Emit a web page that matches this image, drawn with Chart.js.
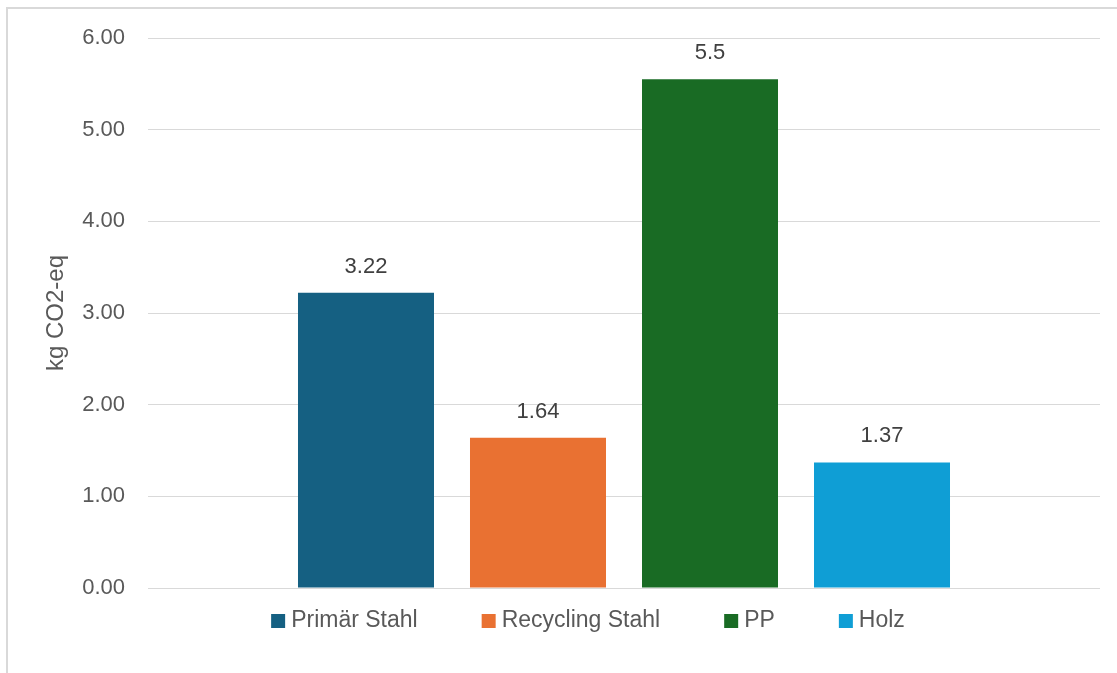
<!DOCTYPE html>
<html>
<head>
<meta charset="utf-8">
<script src="https://cdn.jsdelivr.net/npm/chart.js@4.4.1/dist/chart.umd.min.js"></script>
<style>
  body { margin: 0; background: #fff; }
  #wrap { position: relative; width: 1117px; height: 673px; overflow: hidden; }
  #frame { position: absolute; left: 6px; top: 7px; width: 1200px; height: 800px; border: 2px solid #d9d9d9; }
  #chart { position: absolute; left: 0; top: 0; }
</style>
</head>
<body>
<div id="wrap">
  <div id="frame"></div>
  <canvas id="chart" width="1117" height="673"></canvas>
</div>
<script>
// Data
const seriesNames = ['Primär Stahl', 'Recycling Stahl', 'PP', 'Holz'];
const seriesValues = [3.22, 1.64, 5.55, 1.37];
const valueLabels = ['3.22', '1.64', '5.5', '1.37'];
const seriesColors = ['#156082', '#E97132', '#196B24', '#0F9ED5'];
const yTitle = 'kg CO2-eq';

const FONT = '"Liberation Sans", Arial, sans-serif';

// Value labels above bars
const valueLabelPlugin = {
    id: 'valueLabels',
    afterDatasetsDraw(chart) {
        const ctx = chart.ctx;
        ctx.save();
        ctx.font = '22px ' + FONT;
        ctx.fillStyle = '#404040';
        ctx.textAlign = 'center';
        ctx.textBaseline = 'middle';
        chart.data.datasets.forEach((ds, i) => {
            const bar = chart.getDatasetMeta(i).data[0];
            ctx.fillText(valueLabels[i], bar.x, bar.y - 26);
        });
        ctx.restore();
    }
};

// Legend drawn under the plot (Excel style spacing)
const bottomLegendPlugin = {
    id: 'bottomLegend',
    afterDraw(chart) {
        const ctx = chart.ctx;
        const box = 14, gapText = 6, gapItem = 64, centerX = 588, y = 621;
        ctx.save();
        ctx.font = '23px ' + FONT;
        ctx.textBaseline = 'middle';
        const widths = chart.data.datasets.map(ds => box + gapText + ctx.measureText(ds.label).width);
        const total = widths.reduce((a, b) => a + b, 0) + gapItem * (widths.length - 1);
        let x = centerX - total / 2;
        chart.data.datasets.forEach((ds, i) => {
            ctx.fillStyle = ds.backgroundColor;
            ctx.fillRect(x, y - box / 2, box, box);
            ctx.fillStyle = '#595959';
            ctx.fillText(ds.label, x + box + gapText, y);
            x += widths[i] + gapItem;
        });
        ctx.restore();
    }
};

new Chart(document.getElementById('chart'), {
    type: 'bar',
    data: {
        labels: [''],
        datasets: seriesNames.map((name, i) => ({
            label: name,
            data: [seriesValues[i]],
            backgroundColor: seriesColors[i],
            categoryPercentage: 0.7227,
            barPercentage: 0.7907
        }))
    },
    options: {
        responsive: false,
        animation: false,
        layout: { padding: { left: 39, right: 17, top: 38, bottom: 85 } },
        plugins: {
            legend: { display: false },
            tooltip: { enabled: false }
        },
        scales: {
            x: { display: false },
            y: {
                min: 0,
                max: 6,
                afterFit: s => { s.width = 109; },
                border: { display: false },
                grid: { color: '#d9d9d9', lineWidth: 1, drawTicks: false },
                ticks: {
                    stepSize: 1,
                    padding: 23,
                    color: '#595959',
                    font: { family: FONT, size: 22 },
                    callback: v => v.toFixed(2)
                },
                title: {
                    display: true,
                    text: yTitle,
                    color: '#595959',
                    padding: { top: 3 },
                    font: { family: FONT, size: 24 }
                }
            }
        }
    },
    plugins: [valueLabelPlugin, bottomLegendPlugin]
});
</script>
</body>
</html>
